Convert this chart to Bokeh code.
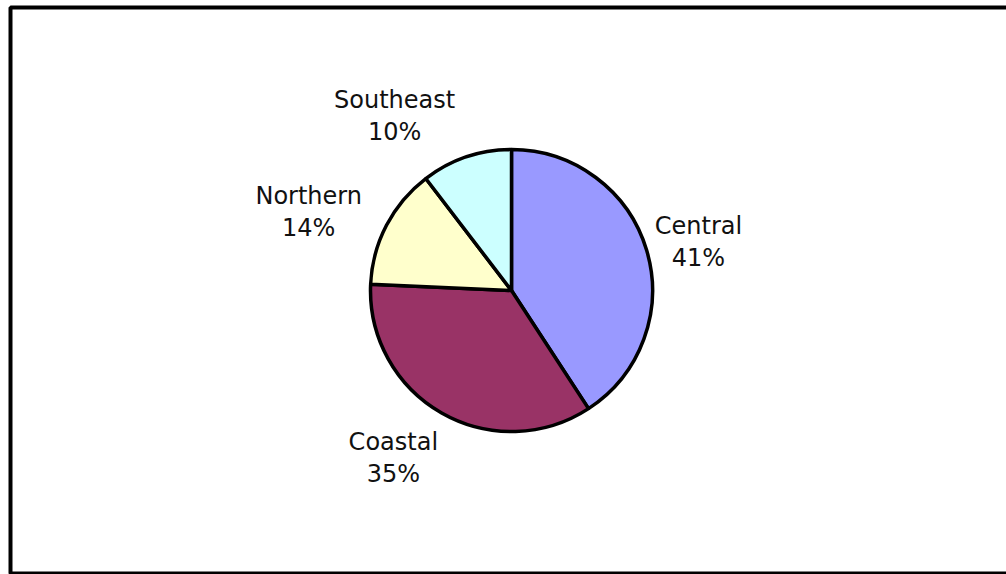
import math
from bokeh.plotting import figure
from bokeh.models import Range1d
from bokeh.core.properties import value
from bokeh.embed import file_html
from bokeh.resources import INLINE

# ---- data ----
regions = ["Central", "Coastal", "Northern", "Southeast"]
shares = [40.8, 34.9, 13.9, 10.4]
colors = ["#9999FF", "#993366", "#FFFFCC", "#CCFFFF"]

# ---- layout (pixel space, y measured down from top) ----
W, H = 1006, 574
CX, CY, R = 511, 290, 141
# label placement: (angle nudge in deg, distance from centre in px)
label_layout = [(-2.2, 193), (-5.3, 206), (6.7, 217), (15.3, 209)]

p = figure(width=W, height=H, output_backend="svg", toolbar_location=None,
           x_range=Range1d(0, W), y_range=Range1d(0, H), min_border=0)
p.axis.visible = False
p.grid.visible = False
p.outline_line_color = None
p.background_fill_color = "white"
p.border_fill_color = "white"

total = sum(shares)
cum = 0.0
starts, ends, mids = [], [], []
for s in shares:
    a0 = 90 - cum / total * 360
    cum += s
    a1 = 90 - cum / total * 360
    starts.append(a1)
    ends.append(a0)
    mids.append((a0 + a1) / 2)

p.wedge(x=[CX] * len(shares), y=[H - CY] * len(shares), radius=R,
        start_angle=starts, end_angle=ends, start_angle_units="deg",
        end_angle_units="deg", direction="anticlock",
        fill_color=colors, line_color="black", line_width=3.5)

lx, ly = [], []
for m, (dn, d) in zip(mids, label_layout):
    a = math.radians(m + dn)
    lx.append(CX + d * math.cos(a))
    ly.append(H - 289 + d * math.sin(a))

names = regions
pcts = [f"{round(s / total * 100)}%" for s in shares]
common = dict(text_font=value("DejaVu Sans"), text_font_size="24px",
              text_color="#111111", text_align="center", text_baseline="middle")
p.text(x=lx, y=[y + 16 for y in ly], text=names, **common)
p.text(x=lx, y=[y - 16 for y in ly], text=pcts, **common)

# chart-area border
p.quad(left=[10], right=[W + 10], top=[H - 7], bottom=[H - 573],
       fill_color=None, line_color="black", line_width=4)

open("out.html", "w").write(file_html(p, INLINE))
